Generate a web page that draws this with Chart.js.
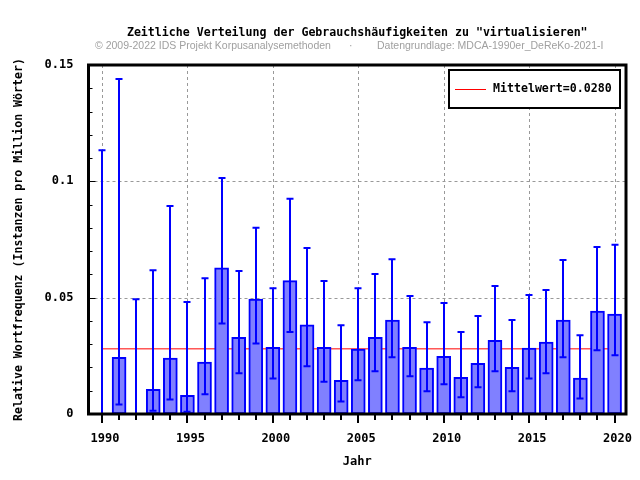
<!DOCTYPE html>
<html>
<head>
<meta charset="utf-8">
<script src="https://cdn.jsdelivr.net/npm/chart.js@4"></script>
<style>
    html, body { margin: 0; padding: 0; background: #fff; }
    #wrap { width: 640px; height: 480px; position: relative; }
</style>
</head>
<body>
<div id="wrap"><canvas id="chart-frequency"></canvas></div>
<script>
/* ============================================
   Zeitliche Verteilung - virtualisieren
   ============================================ */

const years = [1990, 1991, 1992, 1993, 1994, 1995, 1996, 1997, 1998, 1999,
    2000, 2001, 2002, 2003, 2004, 2005, 2006, 2007, 2008, 2009,
    2010, 2011, 2012, 2013, 2014, 2015, 2016, 2017, 2018, 2019, 2020];

const frequency = [0, 0.0244, 0, 0.0106, 0.0240, 0.0080, 0.0223, 0.0628, 0.0330, 0.0494,
    0.0287, 0.0573, 0.0383, 0.0287, 0.0145, 0.0279, 0.0330, 0.0404, 0.0287, 0.0197,
    0.0248, 0.0158, 0.0218, 0.0317, 0.0201, 0.0283, 0.0309, 0.0404, 0.0154, 0.0442, 0.0429];

const errorHigh = [0.1134, 0.1440, 0.0493, 0.0618, 0.0894, 0.0481, 0.0583, 0.1014, 0.0615, 0.0800,
    0.0541, 0.0925, 0.0714, 0.0572, 0.0381, 0.0541, 0.0602, 0.0665, 0.0507, 0.0394,
    0.0477, 0.0352, 0.0421, 0.0550, 0.0404, 0.0511, 0.0533, 0.0662, 0.0339, 0.0718, 0.0727];

const errorLow = [0, 0.0041, 0, 0.0014, 0.0062, 0.0010, 0.0085, 0.0389, 0.0175, 0.0303,
    0.0153, 0.0352, 0.0205, 0.0139, 0.0054, 0.0145, 0.0184, 0.0244, 0.0162, 0.0098,
    0.0128, 0.0072, 0.0115, 0.0184, 0.0098, 0.0153, 0.0175, 0.0244, 0.0067, 0.0274, 0.0253];

const meanValue = 0.0280;
const meanLabel = 'Mittelwert=0.0280';

const xTickYears = [1990, 1995, 2000, 2005, 2010, 2015, 2020];
const yTickValues = [0, 0.05, 0.1, 0.15];

const titleText = 'Zeitliche Verteilung der Gebrauchshäufigkeiten zu "virtualisieren"';
const creditText = '© 2009-2022 IDS Projekt Korpusanalysemethoden';
const sourceText = 'Datengrundlage: MDCA-1990er_DeReKo-2021-I';

const MONO = "'DejaVu Sans Mono', monospace";

// grid lines, frame, axis ticks
const framePlugin = {
    id: 'frame',
    beforeDatasetsDraw(chart) {
        const { ctx, chartArea: a, scales: { x, y } } = chart;
        ctx.save();
        ctx.strokeStyle = '#999';
        ctx.lineWidth = 1;
        ctx.setLineDash([3, 3]);
        xTickYears.forEach(v => {
            const px = Math.round(x.getPixelForValue(v)) + 0.5;
            ctx.beginPath(); ctx.moveTo(px, a.top); ctx.lineTo(px, a.bottom); ctx.stroke();
        });
        [0.05, 0.1].forEach(v => {
            const py = Math.round(y.getPixelForValue(v)) + 0.5;
            ctx.beginPath(); ctx.moveTo(a.left, py); ctx.lineTo(a.right, py); ctx.stroke();
        });
        ctx.restore();
    },
    afterDatasetsDraw(chart) {
        const { ctx, chartArea: a, scales: { x, y } } = chart;
        ctx.save();

        // error bars
        ctx.strokeStyle = '#0000ff';
        ctx.lineWidth = 2;
        years.forEach((yr, i) => {
            const px = Math.round(x.getPixelForValue(yr));
            const top = y.getPixelForValue(errorHigh[i]);
            const bot = y.getPixelForValue(errorLow[i]);
            ctx.beginPath();
            ctx.moveTo(px, top); ctx.lineTo(px, bot);
            ctx.moveTo(px - 3.5, top); ctx.lineTo(px + 3.5, top);
            ctx.moveTo(px - 3.5, bot); ctx.lineTo(px + 3.5, bot);
            ctx.stroke();
        });

        // x ticks (outside, every year)
        ctx.strokeStyle = '#000';
        ctx.lineWidth = 2;
        years.forEach(yr => {
            const px = Math.round(x.getPixelForValue(yr));
            const len = yr % 5 === 0 ? 9 : 6;
            ctx.beginPath(); ctx.moveTo(px, a.bottom); ctx.lineTo(px, a.bottom + len); ctx.stroke();
        });

        // y ticks (inside, every 0.01)
        for (let k = 1; k < 15; k++) {
            const py = Math.round(y.getPixelForValue(k / 100)) + 0.5;
            const len = k % 5 === 0 ? 7 : 4;
            ctx.lineWidth = 1;
            ctx.beginPath(); ctx.moveTo(a.left, py); ctx.lineTo(a.left + len, py); ctx.stroke();
        }

        // frame
        ctx.lineWidth = 3;
        ctx.strokeRect(a.left, a.top, a.right - a.left, a.bottom - a.top);

        // legend box
        ctx.fillStyle = '#fff';
        ctx.fillRect(449, 70, 171, 38);
        ctx.lineWidth = 2;
        ctx.strokeRect(449, 70, 171, 38);
        ctx.strokeStyle = '#ff0000';
        ctx.lineWidth = 1;
        ctx.beginPath(); ctx.moveTo(455, 89.5); ctx.lineTo(486, 89.5); ctx.stroke();
        ctx.fillStyle = '#000';
        ctx.font = 'bold 11.6px ' + MONO;
        ctx.textBaseline = 'middle';
        ctx.fillText(chart.data.datasets[1].label, 493, 89);

        // titles
        ctx.textAlign = 'center';
        ctx.font = 'bold 11.6px ' + MONO;
        ctx.fillText(titleText, (a.left + a.right) / 2, 33);
        ctx.fillStyle = '#a0a0a0';
        ctx.font = "10.5px 'Liberation Sans', Arial, sans-serif";
        ctx.textAlign = 'left';
        ctx.fillText(creditText, 95, 46);
        ctx.fillText('·', 349, 46);
        ctx.fillText(sourceText, 377, 46);
        ctx.restore();
    }
};

function renderFrequencyChart() {
    const ctx = document.getElementById('chart-frequency').getContext('2d');

    new Chart(ctx, {
        type: 'bar',
        data: {
            datasets: [
                {
                    label: 'Frequenz',
                    data: years.map((yr, i) => ({ x: yr, y: frequency[i] })),
                    backgroundColor: '#8080ff',
                    borderColor: '#0000ff',
                    borderWidth: c => (frequency[c.dataIndex] > 0 ? 2 : 0),
                    borderSkipped: false,
                    barThickness: 14,
                    order: 0
                },
                {
                    type: 'line',
                    label: meanLabel,
                    data: [{ x: years[0], y: meanValue }, { x: years[years.length - 1], y: meanValue }],
                    borderColor: '#ff0000',
                    borderWidth: 1,
                    pointRadius: 0,
                    order: 1
                }
            ]
        },
        options: {
            responsive: true,
            maintainAspectRatio: false,
            animation: false,
            layout: { padding: { top: 65, right: 14, left: 0, bottom: 0 } },
            plugins: {
                legend: { display: false },
                tooltip: { enabled: false }
            },
            scales: {
                x: {
                    type: 'linear',
                    offset: false,
                    min: 1989.21,
                    max: 2020.67,
                    afterBuildTicks: s => { s.ticks = xTickYears.map(v => ({ value: v })); },
                    afterFit: s => { s.height = 66; s.paddingLeft = 0; s.paddingRight = 0; },
                    grid: { display: false, drawTicks: false },
                    border: { display: false },
                    ticks: {
                        color: '#000',
                        padding: 18,
                        labelOffset: 3,
                        maxRotation: 0,
                        font: { family: MONO, size: 12, weight: 'bold' },
                        callback: v => String(v)
                    },
                    title: {
                        display: true,
                        text: 'Jahr',
                        color: '#000',
                        padding: { top: 0, bottom: 11 },
                        font: { family: MONO, size: 12, weight: 'bold' }
                    }
                },
                y: {
                    min: 0,
                    max: 0.15,
                    afterBuildTicks: s => { s.ticks = yTickValues.map(v => ({ value: v })); },
                    afterFit: s => { s.width = 88.5; s.paddingTop = 0; s.paddingBottom = 0; },
                    grid: { display: false, drawTicks: false },
                    border: { display: false },
                    ticks: {
                        color: '#000',
                        padding: 15,
                        font: { family: MONO, size: 12, weight: 'bold' },
                        callback: v => String(+v.toFixed(2))
                    },
                    title: {
                        display: true,
                        text: 'Relative Wortfrequenz (Instanzen pro Million Wörter)',
                        color: '#000',
                        padding: { top: 12, bottom: 0 },
                        font: { family: MONO, size: 11.6, weight: 'bold' }
                    }
                }
            }
        },
        plugins: [framePlugin]
    });
}

renderFrequencyChart();
</script>
</body>
</html>
